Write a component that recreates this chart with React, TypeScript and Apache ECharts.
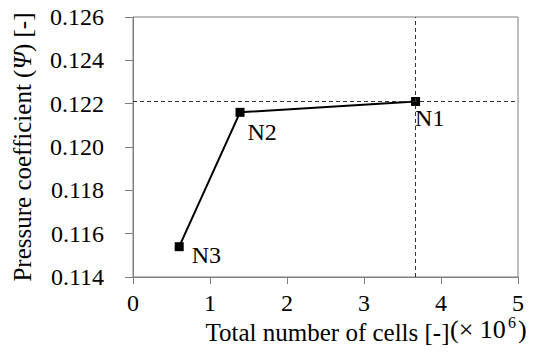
import React, { useEffect, useRef } from "react";
import * as echarts from "echarts";

// Mesh independence study: pressure coefficient vs. total cell count
const meshNames = ["N1", "N2", "N3"];
const cellCounts = [3.67, 1.39, 0.6]; // ×10^6
const pressureCoeff = [0.1221, 0.1216, 0.1154];
const labelOffsets: [number, number][] = [[4, 9], [12, 12], [17, 1]];
const yTicks = { min: 0.114, max: 0.126, step: 0.002 };
const xTicks = { min: 0, max: 5, step: 1 };

const FONT = "Liberation Serif";
const GRAY = "#7f7f7f";

export default function App() {
  const ref = useRef<HTMLDivElement>(null);
  useEffect(() => {
    if (!ref.current) return;
    const chart = echarts.init(ref.current, undefined, { renderer: "svg" });
    const data = meshNames.map((n, i) => ({
      name: n,
      value: [cellCounts[i], pressureCoeff[i]],
      label: { position: labelOffsets[i] },
    }));
    const refX = cellCounts[0];
    const refY = pressureCoeff[0];
    chart.setOption({
      animation: false,
      backgroundColor: "#fff",
      grid: {
        left: 133,
        top: 17,
        right: 22,
        bottom: 79,
        show: true,
        borderColor: GRAY,
        borderWidth: 1,
      },
      xAxis: {
        type: "value",
        min: xTicks.min,
        max: xTicks.max,
        interval: xTicks.step,
        axisLine: { show: true, lineStyle: { color: GRAY, width: 1 } },
        axisTick: { show: true, length: 7, lineStyle: { color: GRAY } },
        splitLine: { show: false },
        axisLabel: { color: "#000", fontFamily: FONT, fontSize: 24, margin: 14 },
        name: "Total number of cells [-]",
        nameLocation: "middle",
        nameGap: 42,
        nameTextStyle: { color: "#000", fontFamily: FONT, fontSize: 25, padding: [0, 0, 0, 4] },
      },
      yAxis: {
        type: "value",
        min: yTicks.min,
        max: yTicks.max,
        interval: yTicks.step,
        axisLine: { show: true, lineStyle: { color: GRAY, width: 1 } },
        axisTick: { show: true, length: 8, lineStyle: { color: GRAY } },
        splitLine: { show: false },
        axisLabel: {
          color: "#000",
          fontFamily: FONT,
          fontSize: 24,
          margin: 29,
          formatter: (v: number) => v.toFixed(3),
        },
        name: "{t|Pressure coefficient (}{i|Ψ}{t|) [-]}",
        nameLocation: "middle",
        nameGap: 98,
        nameTextStyle: {
          color: "#000",
          fontFamily: FONT,
          fontSize: 25,
          rich: {
            t: { fontFamily: FONT, fontSize: 25, color: "#000" },
            i: { fontFamily: FONT, fontSize: 25, fontStyle: "italic", color: "#000" },
          },
        },
      },
      graphic: [
        {
          type: "text",
          x: 450,
          y: 316,
          style: { text: "(× 10", fontFamily: FONT, fontSize: 26, fill: "#000", verticalAlign: "top" },
        },
        {
          type: "text",
          x: 508,
          y: 314,
          style: { text: "6", fontFamily: FONT, fontSize: 16, fill: "#000", verticalAlign: "top" },
        },
        {
          type: "text",
          x: 518,
          y: 316,
          style: { text: ")", fontFamily: FONT, fontSize: 26, fill: "#000", verticalAlign: "top" },
        },
      ],
      series: [
        {
          type: "line",
          data,
          symbol: "rect",
          symbolSize: 9,
          itemStyle: { color: "#000" },
          lineStyle: { color: "#000", width: 2 },
          label: {
            show: true,
            formatter: (p: any) => p.name,
            color: "#000",
            fontFamily: FONT,
            fontSize: 24,
            align: "left",
            verticalAlign: "top",
          },
          markLine: {
            silent: true,
            symbol: "none",
            label: { show: false },
            lineStyle: { color: "#333", type: [4, 3], width: 1 },
            data: [
              [{ coord: [refX, yTicks.min] }, { coord: [refX, yTicks.max] }],
              [{ coord: [xTicks.min, refY] }, { coord: [xTicks.max, refY] }],
            ],
          },
          z: 3,
        },
      ],
    });
    return () => chart.dispose();
  }, []);
  return (
    <div
      ref={ref}
      style={{ position: "absolute", left: 0, top: 0, width: 540, height: 356 }}
    />
  );
}
